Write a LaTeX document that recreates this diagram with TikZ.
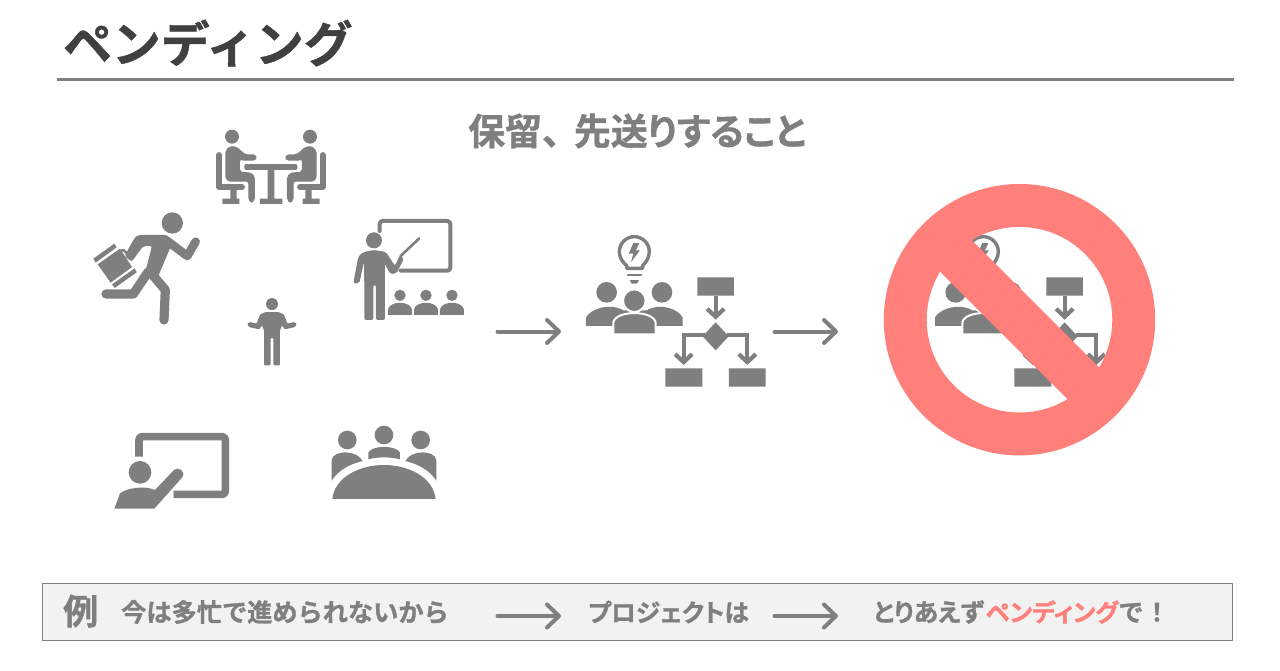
\documentclass[tikz,border=0pt]{standalone}
\usepackage{fontspec}
\usetikzlibrary{arrows.meta}
\setmainfont{Noto Sans CJK JP}
\newfontfamily\jpfull{Noto Sans CJK JP Bold}[FakeBold=1.0]
\newfontfamily\jpprop{Noto Sans CJK JP Bold}[FakeBold=1.0,RawFeature=+palt]
\definecolor{icongray}{HTML}{7F7F7F}
\definecolor{titlegray}{HTML}{404040}
\definecolor{stopred}{HTML}{FF7F7B}
\definecolor{panelgray}{HTML}{F2F2F2}
\newcommand{\fsz}[1]{\fontsize{#1}{#1}\selectfont}
\tikzset{
  ico/.style={fill=icongray,draw=none},
  icoline/.style={draw=icongray,line cap=round,line join=round,fill=none},
  flowline/.style={draw=icongray,line width=4.2pt,line join=miter,fill=none,
    -{Straight Barb[length=8pt,width=17pt,line width=4.2pt]}},
  longarrow/.style={draw=icongray,line width=4pt,line cap=round,
    -{Straight Barb[round,length=12pt,width=23pt]}},
  label/.style={text=icongray,inner sep=0pt,anchor=west},
  unit/.style={x=0.3333pt,y=-0.3333pt},
}
% one sitting figure with chair
\newcommand{\seatedfigure}{%
  \fill[ico] (456,50) circle[radius=21];
  \fill[ico,rounded corners=2pt] (436,175) -- (436,92) -- (450,78) -- (470,80) -- (496,103) -- (526,103) -- (532,113) -- (526,122) -- (484,122) -- (480,118) -- (480,155) -- (515,158) -- (525,170) -- (525,240) -- (515,250) -- (505,240) -- (505,185) -- (445,185) -- cycle;
  \draw[icoline,line width=5.8pt] (418,105) -- (418,201) -- (486,201);
  \fill[ico] (451,208) rectangle (470,238) (427,236) rectangle (478,252);
}
% bulb over three people, beside a small decision flow
\newcommand{\ideaflow}{%
  \draw[icoline,line width=3.4pt] (410,130) -- (410,122) .. controls (398,112) and (388,98) .. (388,80)
    arc[start angle=180,end angle=360,radius=45]
    .. controls (478,98) and (468,112) .. (458,122) -- (458,130) -- cycle;
  \draw[icoline,line width=2.8pt] (414,150) -- (453,150);
  \fill[ico] (419,165) -- (447,165) -- (441,176) -- (425,176) -- cycle;
  \fill[ico] (430,54) -- (448,54) -- (438,76) -- (450,76) -- (423,112) -- (430,86) -- (416,86) -- cycle;
  \fill[ico] (350,202) circle[radius=31] (516,202) circle[radius=31];
  \fill[ico] (288,303) -- (288,278) .. controls (300,252) and (360,232) .. (400,256)
    -- (470,256) .. controls (510,232) and (566,252) .. (578,278) -- (578,303) -- cycle;
  \fill[ico,draw=white,line width=2pt] (433,227) circle[radius=34];
  \fill[ico,draw=white,line width=2pt] (370,328) -- (370,292) .. controls (378,255) and (488,255) .. (497,292) -- (497,328) -- cycle;
  \fill[ico] (622,157) rectangle (732,212) (526,430) rectangle (637,485) (717,430) rectangle (827,485);
  \fill[ico] (677,292) -- (716,334) -- (677,376) -- (638,334) -- cycle;
  \draw[flowline] (677,212) -- (677,284);
  \draw[flowline] (645,330) -- (581,330) -- (581,420);
  \draw[flowline] (710,330) -- (772,330) -- (772,420);
}
\begin{document}
\begin{tikzpicture}[x=1pt,y=-1pt,line cap=butt]
\useasboundingbox (0,0) rectangle (1280,670);
\fill[white] (0,0) rectangle (1280,670);

% heading and rule
\node[inner sep=0pt,anchor=west,text=titlegray] (title) at (63,43) {\jpfull\fsz{48.8}ペンディング};
\coordinate (ruleL) at (57,79);
\coordinate (ruleR) at (1234,79);
\draw[icongray,line width=3pt] (ruleL) -- (ruleR);
\node[label] (sub) at (468,131) {\fsz{36.9}\jpfull 保留、\hspace{-5pt}\jpprop 先送りすること};

\begin{scope}[shift={(80,120)},unit]
  % people at a table
  \seatedfigure
  \begin{scope}[shift={(1146,0)},xscale=-1] \seatedfigure \end{scope}
  \fill[ico,rounded corners=2pt] (493,132) rectangle (652,150);
  \fill[ico] (563,148) rectangle (583,238) (540,236) rectangle (607,252);

  % running commuter
  \fill[ico] (277,309) circle[radius=32];
  \draw[icoline,line width=8.6pt] (255,358) -- (322,408) -- (347,365);
  \draw[icoline,line width=9.2pt] (218,465) -- (256,510) -- (252,600);
  \draw[icoline,line width=9.2pt] (205,455) -- (160,522) -- (78,522);
  \fill[ico,rounded corners=2pt] (175,345) -- (262,345) -- (272,380) -- (232,475) -- (195,460) -- (216,378) -- (190,378) -- (155,425) -- (133,408) -- (165,352) -- cycle;
  \fill[ico] (40,416) -- (103,371) -- (110,382) -- (47,428) -- cycle;
  \fill[ico] (53,433) -- (120,386) -- (156,441) -- (92,488) -- cycle;
  \fill[ico] (96,493) -- (164,445) -- (170,457) -- (104,504) -- cycle;
  \draw[icoline,line width=2.4pt] (122,393) -- (130,390) -- (145,405);

  % presenter with audience
  \draw[icoline,line width=4pt,rounded corners=3pt] (899,333) -- (899,303) -- (1111,303) -- (1111,452) -- (962,452);
  \fill[ico] (882,361) circle[radius=24];
  \fill[ico,rounded corners=2pt] (853,600) -- (853,495) -- (852,425) -- (838,490) -- (820,490) -- (835,410) -- (850,396) -- (882,390) -- (918,396) -- (945,438) -- (960,405) -- (972,415) -- (950,460) -- (930,462) -- (915,430) -- (915,600) -- (888,600) -- (888,495) -- (880,495) -- (880,600) -- cycle;
  \draw[icoline,line width=2.6pt] (962,408) -- (1018,355);
  \foreach \hx in {960,1038,1116} {
    \fill[ico] (\hx,526) circle[radius=17];
    \fill[ico] (\hx-36,585) -- (\hx-36,568) .. controls (\hx-30,542) and (\hx+30,542) .. (\hx+36,568) -- (\hx+36,585) -- cycle;
  }
\end{scope}

% standing figure with a shrug
\begin{scope}[shift={(240,292)},unit]
  \fill[ico] (96,36) circle[radius=18];
  \fill[ico,rounded corners=1pt] (72,220) -- (72,115) -- (66,100) -- (58,112) -- (26,105) -- (22,95) -- (30,90) -- (50,95) -- (60,68) -- (76,60) -- (116,60) -- (132,68) -- (142,95) -- (162,90) -- (170,95) -- (166,105) -- (134,112) -- (126,100) -- (120,115) -- (120,220) -- (100,220) -- (100,138) -- (92,138) -- (92,220) -- cycle;
\end{scope}

% pointing at a board, round table
\begin{scope}[shift={(90,410)},unit]
  \draw[icoline,line cap=butt,line width=7.6pt,rounded corners=3pt] (147,140) -- (147,80) -- (406,80) -- (406,253) -- (250,253);
  \fill[white] (250,235) -- (250,270) -- (228,270) -- cycle;
  \fill[ico] (150,187) circle[radius=34];
  \fill[ico] (73,296) -- (90,250) .. controls (110,235) and (160,225) .. (195,240) -- (252,180) .. controls (265,168) and (290,185) .. (276,203) -- (193,296) -- cycle;

  \fill[ico] (772,90) circle[radius=28] (882,75) circle[radius=28] (992,90) circle[radius=28];
  \fill[ico] (727,267) .. controls (735,200) and (810,165) .. (882,165) .. controls (954,165) and (1029,200) .. (1037,267) -- cycle;
  \fill[ico] (725,212) -- (725,150) .. controls (730,120) and (800,118) .. (818,153) .. controls (780,162) and (745,180) .. (725,212) -- cycle;
  \fill[ico] (1039,212) -- (1039,150) .. controls (1034,120) and (964,118) .. (946,153) .. controls (984,162) and (1019,180) .. (1039,212) -- cycle;
  \fill[ico] (835,148) -- (835,128) .. controls (845,105) and (920,105) .. (930,128) -- (930,148) .. controls (900,140) and (865,140) .. (835,148) -- cycle;
\end{scope}

% idea-to-flow step and its crossed-out repeat
\begin{scope}[shift={(490,225)},unit] \ideaflow \end{scope}
\begin{scope}[shift={(839,225)},unit] \ideaflow \end{scope}

% prohibition sign
\coordinate (stop) at (1019.5,319.7);
\fill[stopred,even odd rule] (stop) circle[radius=135.7] (stop) circle[radius=92.8];
\coordinate (barA) at (951,251);
\coordinate (barB) at (1088,388);
\draw[stopred,line width=44.8pt] (barA) -- (barB);

% arrows between the stages
\coordinate (a1) at (497.5,331.5);
\coordinate (a2) at (561,331.5);
\coordinate (b1) at (774.5,331.5);
\coordinate (b2) at (838,331.5);
\draw[longarrow] (a1) -- (a2);
\draw[longarrow] (b1) -- (b2);

% example strip
\node[draw=icongray,fill=panelgray,line width=1pt,outer sep=0pt,minimum width=1190pt,minimum height=57pt,inner sep=0pt,anchor=north west] (panel) at (42.5,583.5) {};
\node[label] (rei) at (63,611) {\jpfull\fsz{35}例};
\node[label] (why) at (121,612) {\jpfull\fsz{25.2}今は多忙で進められないから};
\node[label] (proj) at (588,612) {\jpprop\fsz{24.6}プロジェクトは};
\node[label] (for) at (873,612) {\jpprop\fsz{25}とりあえず\hspace{2pt}\textcolor{stopred}{\fsz{24.4}ペンディング}\fsz{25}\jpfull で\hspace{1pt}！};
\coordinate (c1) at (497.5,616);
\coordinate (c2) at (561,616);
\coordinate (d1) at (774.5,616);
\coordinate (d2) at (838,616);
\draw[longarrow] (c1) -- (c2);
\draw[longarrow] (d1) -- (d2);
\end{tikzpicture}
\end{document}
